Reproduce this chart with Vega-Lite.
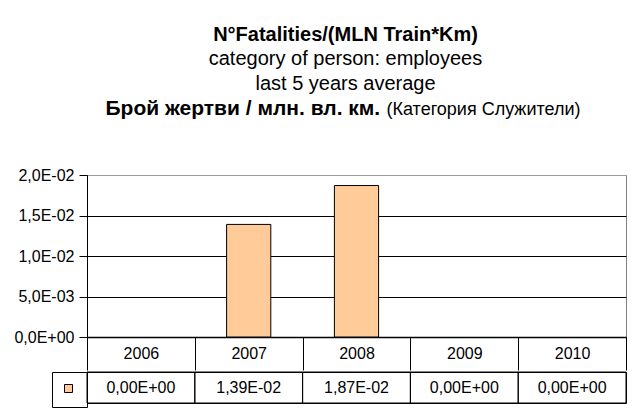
{
  "$schema": "https://vega.github.io/schema/vega-lite/v6.json",
  "padding": {"left": 13, "top": 24, "right": 5, "bottom": 5},
  "background": "white",
  "config": {
    "font": "Liberation Sans",
    "view": {"stroke": "#808080"},
    "axis": {"labelColor": "black", "labelFontSize": 16, "labelFont": "Liberation Sans"}
  },
  "title": {
    "text": "N°Fatalities/(MLN Train*Km)",
    "subtitle": ["category of person: employees", "last 5 years average"],
    "fontSize": 20,
    "fontWeight": "bold",
    "color": "black",
    "subtitleFontSize": 20,
    "subtitleColor": "black",
    "subtitleLineHeight": 25,
    "subtitlePadding": 4,
    "anchor": "middle",
    "frame": "group",
    "dx": -11,
    "offset": 3
  },
  "data": {
    "values": [
      {"year": "2006", "value": 0, "label": "0,00E+00", "series": "employees"},
      {"year": "2007", "value": 0.0139, "label": "1,39E-02", "series": "employees"},
      {"year": "2008", "value": 0.0187, "label": "1,87E-02", "series": "employees"},
      {"year": "2009", "value": 0, "label": "0,00E+00", "series": "employees"},
      {"year": "2010", "value": 0, "label": "0,00E+00", "series": "employees"}
    ]
  },
  "spacing": 0,
  "resolve": {"legend": {"fill": "independent"}},
  "vconcat": [
    {
      "width": 539,
      "height": 162,
      "view": {"stroke": "#808080"},
      "transform": [{"filter": "datum.value > 0"}],
      "mark": {"type": "bar", "fill": "#FFCC99", "stroke": "black", "strokeWidth": 1, "width": {"band": 0.41}},
      "encoding": {
        "x": {
          "field": "year",
          "type": "ordinal",
          "scale": {"domain": ["2006", "2007", "2008", "2009", "2010"], "paddingInner": 0, "paddingOuter": 0},
          "axis": {
            "title": "(Категория Служители)",
            "titleFontSize": 18,
            "titleFontWeight": "normal",
            "titleColor": "black",
            "titleX": 299,
            "titleY": -223,
            "titleAlign": "left",
            "titleBaseline": "alphabetic",
            "labelAngle": 0,
            "tickBand": "extent",
            "tickSize": 33,
            "tickColor": "black",
            "domainColor": "black",
            "domainWidth": 1.5,
            "labelPadding": -16.5,
            "labelBaseline": "middle"
          }
        },
        "y": {
          "field": "value",
          "type": "quantitative",
          "scale": {"domain": [0, 0.02], "nice": false},
          "axis": {
            "title": "Брой жертви / млн. вл. км.",
            "titleFontSize": 21,
            "titleFontWeight": "bold",
            "titleColor": "black",
            "titleAngle": 0,
            "titleX": 18,
            "titleY": -61,
            "titleAlign": "left",
            "titleBaseline": "alphabetic",
            "values": [0, 0.005, 0.01, 0.015, 0.02],
            "labelExpr": "replace(replace(replace(format(datum.value, '.1e'), '.', ','), 'e-', 'E-0'), 'e+', 'E+0')",
            "grid": true,
            "gridColor": {"condition": {"test": "datum.value >= 0.02", "value": "#9a9a9a"}, "value": "black"},
            "gridOpacity": 1,
            "tickColor": "black",
            "tickSize": 8,
            "domainColor": "black",
            "labelPadding": 5
          }
        }
      }
    },
    {
      "width": 539,
      "height": 31,
      "view": {"stroke": "black"},
      "layer": [
        {
          "mark": {"type": "bar", "fillOpacity": 0, "stroke": "black", "strokeWidth": 1},
          "encoding": {
            "x": {"field": "year", "type": "ordinal", "scale": {"paddingInner": 0, "paddingOuter": 0}, "axis": null},
            "fill": {
              "field": "series",
              "type": "nominal",
              "scale": {"range": ["#FFCC99"]},
              "legend": {
                "title": null,
                "orient": "left",
                "offset": 0,
                "padding": 12,
                "strokeColor": "black",
                "symbolType": "square",
                "symbolSize": 64,
                "symbolOpacity": 1,
                "symbolStrokeColor": "black",
                "symbolStrokeWidth": 1,
                "labelExpr": "''",
                "labelOffset": 0,
                "labelFontSize": 1
              }
            }
          }
        },
        {
          "mark": {"type": "text", "fontSize": 16, "color": "black"},
          "encoding": {
            "x": {"field": "year", "type": "ordinal"},
            "text": {"field": "label"}
          }
        }
      ]
    }
  ]
}
